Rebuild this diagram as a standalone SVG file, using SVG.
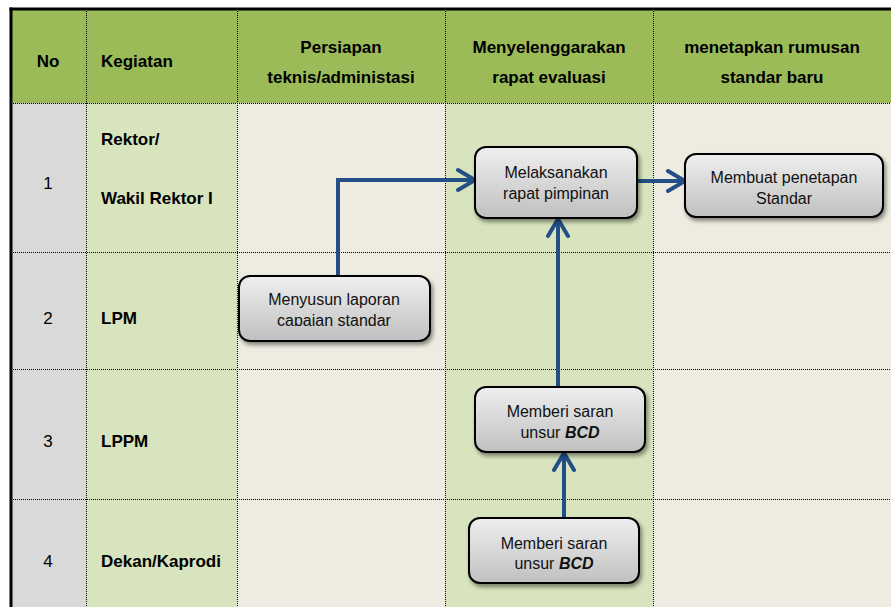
<svg xmlns="http://www.w3.org/2000/svg" width="891" height="607" viewBox="0 0 891 607">
<style>
.hdr{font-family:"Liberation Sans",Arial,sans-serif;font-weight:bold;font-size:17px;fill:#000}
.num{font-family:"Liberation Sans",Arial,sans-serif;font-size:17px;fill:#000}
.ntx{font-family:"Liberation Sans",Arial,sans-serif;font-size:16px;fill:#111;text-anchor:middle}
.bi{font-weight:bold;font-style:italic}
.grid{stroke:#000;stroke-width:1;stroke-dasharray:1 1;fill:none;shape-rendering:crispEdges}
.box{fill:url(#g);stroke:#000;stroke-width:2;filter:url(#sh)}
.con{stroke:#234E86;stroke-width:4;fill:none;stroke-linecap:butt}
</style>
<defs>
<linearGradient id="g" x1="0" y1="0" x2="0" y2="1">
<stop offset="0" stop-color="#EFEFEF"/>
<stop offset="1" stop-color="#C0C0C0"/>
</linearGradient>
<filter id="sh" x="-10%" y="-10%" width="125%" height="140%">
<feGaussianBlur in="SourceAlpha" stdDeviation="2"/>
<feOffset dx="2" dy="3" result="o"/>
<feComponentTransfer><feFuncA type="linear" slope="0.45"/></feComponentTransfer>
<feMerge><feMergeNode/><feMergeNode in="SourceGraphic"/></feMerge>
</filter>
<marker id="ah" viewBox="-22 -13 25 26" markerWidth="25" markerHeight="26" refX="0" refY="0" orient="auto" markerUnits="userSpaceOnUse">
<path d="M-17,-10 L0,0 L-17,10" fill="none" stroke="#234E86" stroke-width="4" stroke-linecap="round" stroke-linejoin="miter"/>
</marker>
<clipPath id="clipA"><rect x="230" y="270" width="210" height="56"/></clipPath>
</defs>
<rect width="891" height="607" fill="#fff"/>
<g id="table">
<rect x="11" y="9" width="880" height="94" fill="#9BBB59"/>
<rect x="11" y="103" width="75" height="504" fill="#D9D9D9"/>
<rect x="86" y="103" width="151" height="504" fill="#D7E4BD"/>
<rect x="237" y="103" width="208" height="504" fill="#EEECE1"/>
<rect x="445" y="103" width="208" height="504" fill="#D7E4BD"/>
<rect x="653" y="103" width="238" height="504" fill="#EEECE1"/>
<g class="grid">
<line x1="86.5" y1="9" x2="86.5" y2="607"/>
<line x1="237.5" y1="9" x2="237.5" y2="607"/>
<line x1="445.5" y1="9" x2="445.5" y2="607"/>
<line x1="653.5" y1="9" x2="653.5" y2="607"/>
<line x1="11" y1="103.5" x2="891" y2="103.5"/>
<line x1="11" y1="252.5" x2="891" y2="252.5"/>
<line x1="11" y1="369.5" x2="891" y2="369.5"/>
<line x1="11" y1="499.5" x2="891" y2="499.5"/>
</g>
<line x1="9.5" y1="9" x2="891" y2="9" stroke="#000" stroke-width="3"/>
<line x1="11" y1="7.5" x2="11" y2="607" stroke="#000" stroke-width="3"/>
<text class="hdr" x="48" y="67" text-anchor="middle">No</text>
<text class="hdr" x="101" y="67">Kegiatan</text>
<text class="hdr" x="341" y="53" text-anchor="middle">Persiapan</text>
<text class="hdr" x="341" y="83" text-anchor="middle">teknis/administasi</text>
<text class="hdr" x="549" y="53" text-anchor="middle">Menyelenggarakan</text>
<text class="hdr" x="549" y="83" text-anchor="middle">rapat evaluasi</text>
<text class="hdr" x="772" y="53" text-anchor="middle">menetapkan rumusan</text>
<text class="hdr" x="772" y="83" text-anchor="middle">standar baru</text>
<text class="num" x="48" y="189" text-anchor="middle">1</text>
<text class="hdr" x="101" y="145">Rektor/</text>
<text class="hdr" x="101" y="204">Wakil Rektor I</text>
<text class="num" x="48" y="324" text-anchor="middle">2</text>
<text class="hdr" x="101" y="324">LPM</text>
<text class="num" x="48" y="447" text-anchor="middle">3</text>
<text class="hdr" x="101" y="447">LPPM</text>
<text class="num" x="48" y="567" text-anchor="middle">4</text>
<text class="hdr" x="101" y="567">Dekan/Kaprodi</text>
</g>
<g id="connectors">
<path class="con" d="M338,276 L338,180 L475,180" marker-end="url(#ah)"/>
<path class="con" d="M637,181 L685,181" marker-end="url(#ah)"/>
<path class="con" d="M558,387 L558,219" marker-end="url(#ah)"/>
<path class="con" d="M564,518 L564,453" marker-end="url(#ah)"/>
</g>
<g id="n-melaksanakan">
<rect class="box" x="475" y="147" width="162" height="71" rx="11"/>
<text class="ntx" x="556" y="178">Melaksanakan</text>
<text class="ntx" x="556" y="199">rapat pimpinan</text>
</g>
<g id="n-membuat">
<rect class="box" x="685" y="154" width="198" height="63" rx="11"/>
<text class="ntx" x="784" y="183">Membuat penetapan</text>
<text class="ntx" x="784" y="204">Standar</text>
</g>
<g id="n-menyusun">
<rect class="box" x="239" y="276" width="191" height="65" rx="11"/>
<g clip-path="url(#clipA)">
<text class="ntx" x="334" y="305">Menyusun laporan</text>
<text class="ntx" x="334" y="326">capaian standar</text>
</g>
</g>
<g id="n-saran3">
<rect class="box" x="475" y="387" width="170" height="65" rx="11"/>
<text class="ntx" x="560" y="417">Memberi saran</text>
<text class="ntx" x="560" y="438">unsur <tspan class="bi">BCD</tspan></text>
</g>
<g id="n-saran4">
<rect class="box" x="469" y="518" width="170" height="65" rx="11"/>
<text class="ntx" x="554" y="549">Memberi saran</text>
<text class="ntx" x="554" y="569">unsur <tspan class="bi">BCD</tspan></text>
</g>
</svg>
